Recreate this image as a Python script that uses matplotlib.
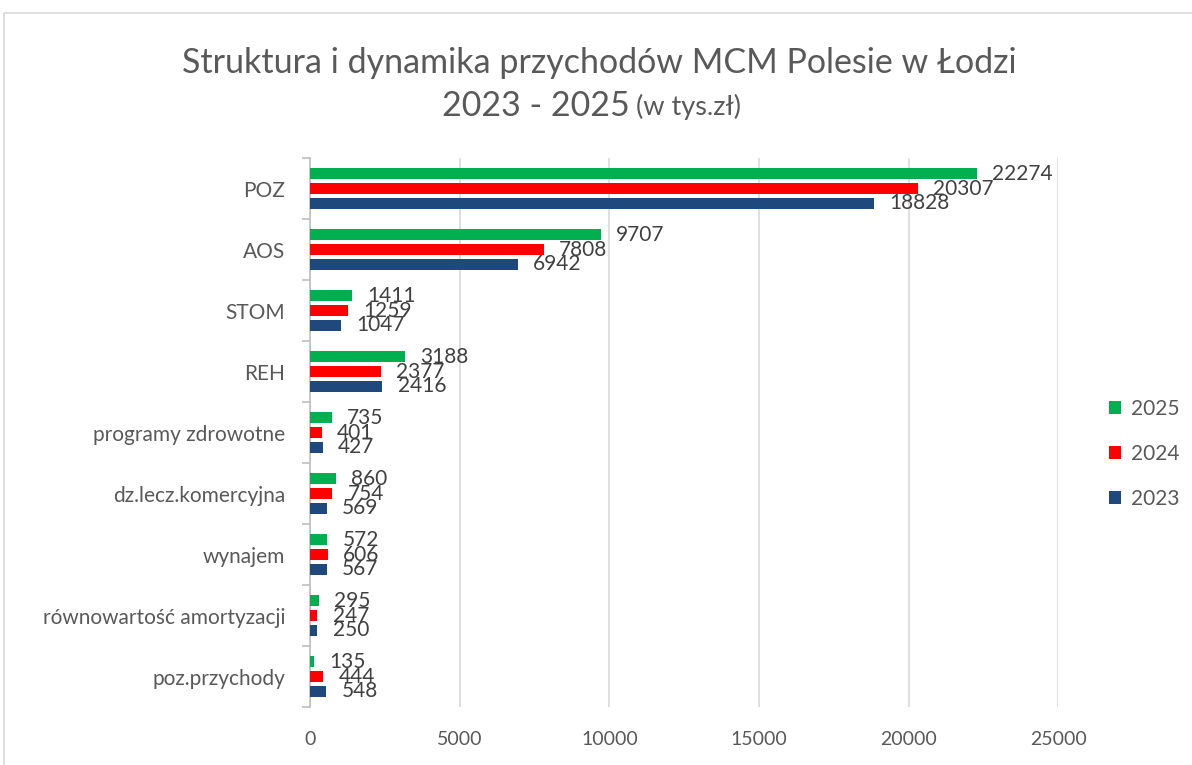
import matplotlib.pyplot as plt
from matplotlib.patches import Rectangle
import numpy as np

plt.rcParams['font.family'] = ['Lato', 'DejaVu Sans']

categories = ['POZ', 'AOS', 'STOM', 'REH', 'programy zdrowotne',
              'dz.lecz.komercyjna', 'wynajem', 'równowartość amortyzacji',
              'poz.przychody']
v2025 = [22274, 9707, 1411, 3188, 735, 860, 572, 295, 135]
v2024 = [20307, 7808, 1259, 2377, 401, 754, 606, 247, 444]
v2023 = [18828, 6942, 1047, 2416, 427, 569, 567, 250, 548]
years = ['2025', '2024', '2023']
colors = ['#00B050', '#FF0000', '#1F497D']
xticks = [0, 5000, 10000, 15000, 20000, 25000]

txt = '#404040'
fig = plt.figure(figsize=(11.92, 7.65), dpi=100)
ax = fig.add_axes([0.260, 0.0758, 0.628, 0.7176])

# chart border
fig.patches.append(Rectangle((4 / 1192, -0.1), 1.2, 1 - 13 / 765 + 0.1,
                             transform=fig.transFigure, fill=False,
                             edgecolor='#d9d9d9', linewidth=1.2))

y = np.arange(len(categories))
step = 0.245
h = 0.18
handles = []
for i, (vals, col, yr) in enumerate(zip([v2025, v2024, v2023], colors, years)):
    bars = ax.barh(y + (i - 1) * step, vals, height=h, color=col, label=yr, zorder=3)
    ax.bar_label(bars, padding=11, fontsize=15, color=txt)
    handles.append(bars)

ax.set_ylim(len(categories) - 0.5, -0.5)
ax.set_xlim(0, 25000)
ax.set_xticks(xticks)
ax.set_xticklabels([str(t) for t in xticks], fontsize=14, color='#595959')
ax.tick_params(axis='x', length=0, pad=17)

ax.set_yticks(y)
ax.set_yticklabels(categories, fontsize=15, color='#595959')
ax.tick_params(axis='y', length=0, pad=18)
ax.set_yticks(np.arange(-0.5, len(categories), 1), minor=True)
ax.tick_params(axis='y', which='minor', length=6, color='#bfbfbf', width=1.2)

ax.grid(axis='x', color='#d9d9d9', linewidth=1.2, zorder=0)
for s in ['top', 'right', 'bottom']:
    ax.spines[s].set_visible(False)
ax.spines['left'].set_color('#bfbfbf')
ax.spines['left'].set_linewidth(1.2)

fig.text(0.503, 0.918, 'Struktura i dynamika przychodów MCM Polesie w Łodzi',
         ha='center', va='center', fontsize=24.5, color='#595959')
fig.text(0.528, 0.862, '2023 - 2025', ha='right', va='center', fontsize=24.5,
         color='#595959')
fig.text(0.528, 0.860, ' (w tys.zł)', ha='left', va='center', fontsize=19.5,
         color='#595959')

fig.legend(handles=handles, labels=years, loc='center left',
           bbox_to_anchor=(0.930, 0.407), frameon=False, fontsize=15,
           labelcolor='#595959', handlelength=0.6, handleheight=0.6,
           handletextpad=0.5, labelspacing=1.2, borderpad=0, borderaxespad=0)

fig.savefig('out.png', dpi=100)
